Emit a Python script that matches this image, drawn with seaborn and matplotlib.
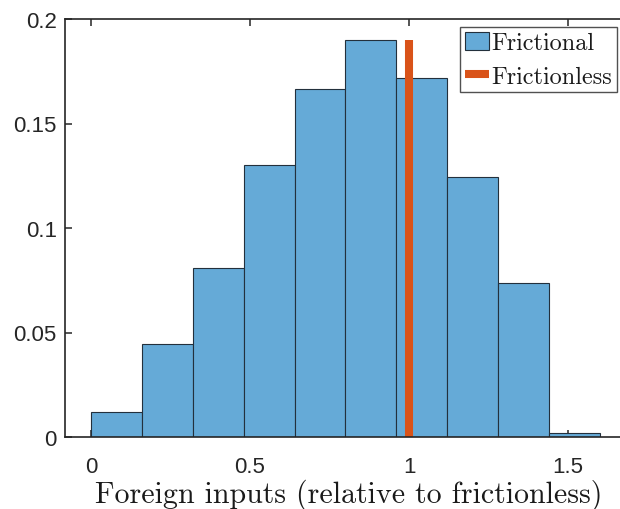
import numpy as np
import pandas as pd
import matplotlib
matplotlib.use("Agg")
import matplotlib.pyplot as plt
import seaborn as sns

# histogram data (probability per bin)
bin_edges = [0.0, 0.16, 0.32, 0.48, 0.64, 0.80, 0.96, 1.12, 1.28, 1.44, 1.60]
frictional = [0.012, 0.0445, 0.081, 0.130, 0.1665, 0.190, 0.172, 0.1245, 0.0737, 0.002]
frictionless_x = [1.0, 1.0]
frictionless_y = [0.0, 0.19]
x_ticks = [0, 0.5, 1, 1.5]
y_ticks = [0, 0.05, 0.1, 0.15, 0.2]

sns.set_theme(style="white")
plt.rcParams['font.family'] = ['Liberation Sans', 'DejaVu Sans']

df = pd.DataFrame({
    'center': [(a + b) / 2 for a, b in zip(bin_edges[:-1], bin_edges[1:])],
    'prob': frictional,
})

fig = plt.figure(figsize=(6.2, 5.1), dpi=100)
ax = fig.add_axes([65 / 620, 1 - 438 / 510, 566.6 / 620, 418 / 510])

sns.histplot(data=df, x='center', weights='prob', bins=bin_edges, stat='count',
             color='#65AAD7', alpha=1.0, edgecolor='#23303c', linewidth=0.8,
             ax=ax, label='Frictional')
line, = ax.plot(frictionless_x, frictionless_y, color='#D95319', linewidth=5.8,
                solid_capstyle='butt', label='Frictionless')

ax.set_xlim(-0.0818, 1.7)
ax.set_ylim(0, 0.2)
ax.set_xticks(x_ticks)
ax.set_xticklabels(['0', '0.5', '1', '1.5'])
ax.set_yticks(y_ticks)
ax.set_yticklabels(['0', '0.05', '0.1', '0.15', '0.2'])
ax.set_ylabel('')
ax.set_xlabel('Foreign inputs (relative to frictionless)', family='cmr10',
              fontsize=21.6, labelpad=1, color='#1a1a1a')

ax.tick_params(direction='in', length=5, width=1.1, colors='#262626',
               labelsize=16, top=True, right=True, bottom=True, left=True)
ax.tick_params(axis='x', pad=14)
ax.tick_params(axis='y', pad=6)
for s in ax.spines.values():
    s.set_visible(True)
    s.set_color('#262626')
    s.set_linewidth(1.2)

# legend order as in the reference: histogram first, then the line
handles, labels = ax.get_legend_handles_labels()
order = [labels.index('Frictional'), labels.index('Frictionless')]
leg = ax.legend([handles[i] for i in order], [labels[i] for i in order],
                loc='upper right', bbox_to_anchor=(617 / 620, 1 - 28 / 510),
                bbox_transform=fig.transFigure, borderaxespad=0,
                prop={'family': 'cmr10', 'size': 17.5}, frameon=True,
                fancybox=False, handlelength=1.0, handleheight=0.75,
                handletextpad=0.08, borderpad=0.2, labelspacing=0.45)
leg.get_frame().set_edgecolor('#262626')
leg.get_frame().set_linewidth(1.0)
for t in leg.get_texts():
    t.set_color('#1a1a1a')

fig.savefig('out.png', dpi=100)
